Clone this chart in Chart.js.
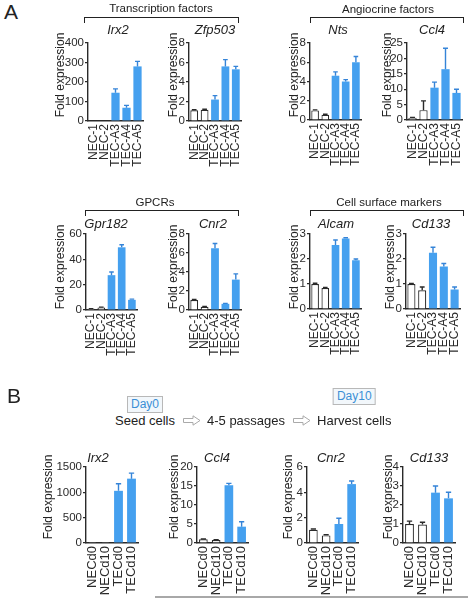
<!DOCTYPE html>
<html>
<head>
<meta charset="utf-8">
<script src="https://cdn.jsdelivr.net/npm/chart.js"></script>
<style>
  html, body { margin: 0; padding: 0; background: #fff; }
  #fig { position: relative; width: 468px; height: 599px; overflow: hidden;
         font-family: "Liberation Sans", Arial, sans-serif; color: #222; }
  #fig canvas { position: absolute; }
  .txt { position: absolute; white-space: nowrap; line-height: 1; }
  .panel { font-size: 21px; }
  .gene { font-style: italic; font-size: 13px; transform: translate(-50%, -50%); }
  .ylab { font-size: 12px; transform: translate(-50%, -50%) rotate(-90deg); }
  .group { font-size: 11.5px; transform: translate(-50%, -50%); }
  .bracket { position: absolute; border: 1.5px solid #222; border-bottom: none; height: 6px; box-sizing: border-box; }
  .day { position: absolute; font-size: 12px; color: #3b8fd6; background: #f2f7fb;
         border: 1px solid #b8b8b8; padding: 1px 3px; line-height: 1.1; transform: translateX(-50%); }
  .flow { position: absolute; display: flex; align-items: center; font-size: 13px; white-space: nowrap; line-height: 1; }
  .flow svg { margin: 0 6px 0 8px; }
</style>
</head>
<body>
<div id="fig"></div>
<script>
// categories
const labelsA = ['NEC-1', 'NEC-2', 'TEC-A3', 'TEC-A4', 'TEC-A5'];
const labelsB = ['NECd0', 'NECd10', 'TECd0', 'TECd10'];

// panel A, fold expression (mean) and upper error
const irx2A = [1, 1, 145, 68, 280];
const irx2AErr = [0, 0, 20, 12, 26];
const zfp503 = [1.1, 1.15, 2.2, 5.6, 5.3];
const zfp503Err = [0.05, 0.05, 0.4, 0.7, 0.3];
const nts = [1.0, 0.55, 4.6, 4.0, 6.0];
const ntsErr = [0.05, 0.05, 0.4, 0.2, 0.6];
const ccl4A = [0.7, 3.2, 10.5, 16.5, 8.8];
const ccl4AErr = [0.1, 3.0, 1.8, 6.8, 1.2];
const gpr182 = [1, 2, 27.5, 49.5, 8];
const gpr182Err = [0.1, 0.3, 2.5, 2, 0.6];
const cnr2A = [1.05, 0.35, 6.5, 0.65, 3.2];
const cnr2AErr = [0.05, 0.03, 0.5, 0.05, 0.6];
const alcam = [1.0, 0.84, 2.56, 2.82, 1.95];
const alcamErr = [0.03, 0.02, 0.2, 0.03, 0.05];
const cd133A = [1.0, 0.75, 2.25, 1.7, 0.78];
const cd133AErr = [0.02, 0.13, 0.22, 0.12, 0.1];

// panel B
const irx2B = [1, 1, 1030, 1270];
const irx2BErr = [0, 0, 140, 110];
const ccl4B = [1, 0.8, 15.2, 4.3];
const ccl4BErr = [0.05, 0.1, 0.5, 1.3];
const cnr2B = [1.05, 0.6, 1.5, 4.65];
const cnr2BErr = [0.05, 0.05, 0.45, 0.25];
const cd133B = [1.0, 0.97, 2.65, 2.35];
const cd133BErr = [0.15, 0.12, 0.35, 0.32];

// y axis ranges (max, step)
const yMax = [400, 8, 8, 25, 60, 8, 3, 3, 1500, 20, 6, 4];
const yStep = [100, 2, 2, 5, 20, 2, 1, 1, 500, 5, 2, 1];

const panels = [
  { gene: 'Irx2', labels: labelsA, values: irx2A, errors: irx2AErr },
  { gene: 'Zfp503', labels: labelsA, values: zfp503, errors: zfp503Err },
  { gene: 'Nts', labels: labelsA, values: nts, errors: ntsErr },
  { gene: 'Ccl4', labels: labelsA, values: ccl4A, errors: ccl4AErr },
  { gene: 'Gpr182', labels: labelsA, values: gpr182, errors: gpr182Err },
  { gene: 'Cnr2', labels: labelsA, values: cnr2A, errors: cnr2AErr },
  { gene: 'Alcam', labels: labelsA, values: alcam, errors: alcamErr },
  { gene: 'Cd133', labels: labelsA, values: cd133A, errors: cd133AErr },
  { gene: 'Irx2', labels: labelsB, values: irx2B, errors: irx2BErr },
  { gene: 'Ccl4', labels: labelsB, values: ccl4B, errors: ccl4BErr },
  { gene: 'Cnr2', labels: labelsB, values: cnr2B, errors: cnr2BErr },
  { gene: 'Cd133', labels: labelsB, values: cd133B, errors: cd133BErr }
];

// where each small plot sits on the page: axis line x, plot right edge, y of max, y of zero,
// centre of the y title, centre of the gene name
const layout = [
  { axisX: 88, right: 143, top: 43, zero: 121, ylab: [60, 75], title: [118, 29] },
  { axisX: 189, right: 241, top: 43, zero: 121, ylab: [173, 75], title: [215, 29] },
  { axisX: 310, right: 361, top: 43, zero: 120, ylab: [294, 75], title: [338, 29] },
  { axisX: 407, right: 462, top: 43, zero: 120, ylab: [387, 75], title: [432, 29] },
  { axisX: 86, right: 137, top: 234, zero: 310, ylab: [60, 267], title: [106, 223] },
  { axisX: 189, right: 241, top: 234, zero: 310, ylab: [173, 267], title: [213, 223] },
  { axisX: 310, right: 361, top: 234, zero: 309, ylab: [294, 267], title: [336, 223] },
  { axisX: 406, right: 460, top: 234, zero: 309, ylab: [390, 267], title: [431, 223] },
  { axisX: 86, right: 138, top: 467, zero: 543, ylab: [48, 497], title: [98, 457] },
  { axisX: 197, right: 248, top: 467, zero: 543, ylab: [174, 497], title: [217, 457] },
  { axisX: 307, right: 358, top: 467, zero: 543, ylab: [288, 497], title: [331, 457] },
  { axisX: 403, right: 455, top: 467, zero: 543, ylab: [388, 497], title: [429, 457] }
];

const BLUE = '#45a0ef';
const BLUE_ERR = '#3584d8';
const INK = '#2a2a2a';
const FONT = '"Liberation Sans", Arial, sans-serif';
const Y_AXIS_W = 40, PAD_TOP = 10, PAD_RIGHT = 16;

const fig = document.getElementById('fig');

function addText(cls, text, x, y) {
  const el = document.createElement('div');
  el.className = 'txt ' + cls;
  el.textContent = text;
  el.style.left = x + 'px';
  el.style.top = y + 'px';
  fig.appendChild(el);
  return el;
}

function addBracket(x1, x2, y, label, labelX, labelY) {
  const b = document.createElement('div');
  b.className = 'bracket';
  b.style.left = x1 + 'px';
  b.style.top = y + 'px';
  b.style.width = (x2 - x1) + 'px';
  fig.appendChild(b);
  addText('group', label, labelX, labelY);
}

// upper-only error bars with a cap, drawn through the y scale
const errorBars = {
  id: 'errorBars',
  afterDatasetsDraw(chart, args, opts) {
    const { ctx } = chart;
    const y = chart.scales.y;
    const meta = chart.getDatasetMeta(0);
    const data = chart.data.datasets[0].data;
    ctx.save();
    ctx.lineWidth = 1.4;
    meta.data.forEach((bar, i) => {
      const err = opts.errors[i];
      if (!err) return;
      const tip = y.getPixelForValue(data[i] + err);
      const cap = bar.width * 0.3;
      ctx.strokeStyle = opts.colors[i];
      ctx.beginPath();
      ctx.moveTo(bar.x, bar.y);
      ctx.lineTo(bar.x, tip);
      ctx.moveTo(bar.x - cap, tip);
      ctx.lineTo(bar.x + cap, tip);
      ctx.stroke();
    });
    ctx.restore();
  }
};

panels.forEach((p, idx) => {
  const g = layout[idx];
  const isB = p.labels === labelsB;
  const xH = isB ? 56 : 48;
  const w = Y_AXIS_W + (g.right - g.axisX) + PAD_RIGHT;
  const h = PAD_TOP + (g.zero - g.top) + xH;

  const canvas = document.createElement('canvas');
  canvas.width = w;
  canvas.height = h;
  canvas.style.left = (g.axisX - Y_AXIS_W) + 'px';
  canvas.style.top = (g.top - PAD_TOP) + 'px';
  canvas.style.width = w + 'px';
  canvas.style.height = h + 'px';
  fig.appendChild(canvas);

  const isTEC = p.labels.map(l => l.startsWith('TEC'));

  new Chart(canvas, {
    type: 'bar',
    data: {
      labels: p.labels,
      datasets: [{
        data: p.values,
        backgroundColor: isTEC.map(t => t ? BLUE : '#ffffff'),
        borderColor: isTEC.map(t => t ? BLUE : INK),
        borderWidth: isTEC.map(t => t ? 0 : 1.2),
        borderSkipped: 'bottom',
        barPercentage: isB ? 0.68 : 0.75,
        categoryPercentage: 1
      }]
    },
    options: {
      responsive: false,
      animation: false,
      layout: { padding: { top: PAD_TOP, right: PAD_RIGHT, left: 0, bottom: 0 } },
      plugins: {
        legend: { display: false },
        tooltip: { enabled: false },
        errorBars: { errors: p.errors, colors: isTEC.map(t => t ? BLUE_ERR : INK) }
      },
      scales: {
        x: {
          afterFit: s => { s.height = xH; },
          grid: { display: false, drawTicks: false },
          border: { display: true, color: INK, width: 1.4 },
          ticks: {
            autoSkip: false,
            minRotation: 90,
            maxRotation: 90,
            padding: 3,
            color: INK,
            font: { family: FONT, size: isB ? 13 : 12 }
          }
        },
        y: {
          min: 0,
          max: yMax[idx],
          afterFit: s => { s.width = Y_AXIS_W; },
          grid: { drawOnChartArea: false, drawTicks: true, tickLength: 3, color: INK, lineWidth: 1.2 },
          border: { display: true, color: INK, width: 1.4 },
          ticks: {
            autoSkip: false,
            stepSize: yStep[idx],
            padding: 1,
            color: INK,
            font: { family: FONT, size: 11.5 },
            callback: v => String(v)
          }
        }
      }
    },
    plugins: [errorBars]
  });

  addText('ylab', 'Fold expression', g.ylab[0], g.ylab[1]);
  addText('gene', p.gene, g.title[0], g.title[1]);
});

// panel letters and group brackets
addText('panel', 'A', 4, 1);
addText('panel', 'B', 7, 385);
addBracket(84, 239, 17, 'Transcription factors', 161, 9);
addBracket(310, 464, 17, 'Angiocrine factors', 388, 10);
addBracket(85, 239, 210, 'GPCRs', 155, 203);
addBracket(310, 464, 210, 'Cell surface markers', 389, 203);

// culture scheme in panel B
function arrowSvg() {
  return '<svg width="18" height="11" viewBox="0 0 18 11"><path d="M0.5 3.5 H10 V0.8 L17 5.5 L10 10.2 V7.5 H0.5 Z" fill="#fff" stroke="#aaa" stroke-width="1"/></svg>';
}
const flow = document.createElement('div');
flow.className = 'flow';
flow.style.left = '115px';
flow.style.top = '414px';
flow.innerHTML = '<span id="seed">Seed cells</span>' + arrowSvg() + '<span>4-5 passages</span>' + arrowSvg() + '<span id="harvest">Harvest cells</span>';
fig.appendChild(flow);

function addDayBox(text, anchorId, top) {
  const span = document.getElementById(anchorId);
  const r = span.getBoundingClientRect();
  const f = fig.getBoundingClientRect();
  const box = document.createElement('div');
  box.className = 'day';
  box.textContent = text;
  box.style.left = (r.left - f.left + r.width / 2) + 'px';
  box.style.top = top + 'px';
  fig.appendChild(box);
}
addDayBox('Day0', 'seed', 396);
addDayBox('Day10', 'harvest', 388);

// thin grey rule along the bottom edge of the original figure
const rule = document.createElement('div');
rule.style.cssText = 'position:absolute;left:155px;top:596px;width:313px;height:2px;background:#a8a8a8;';
fig.appendChild(rule);
</script>
</body>
</html>
